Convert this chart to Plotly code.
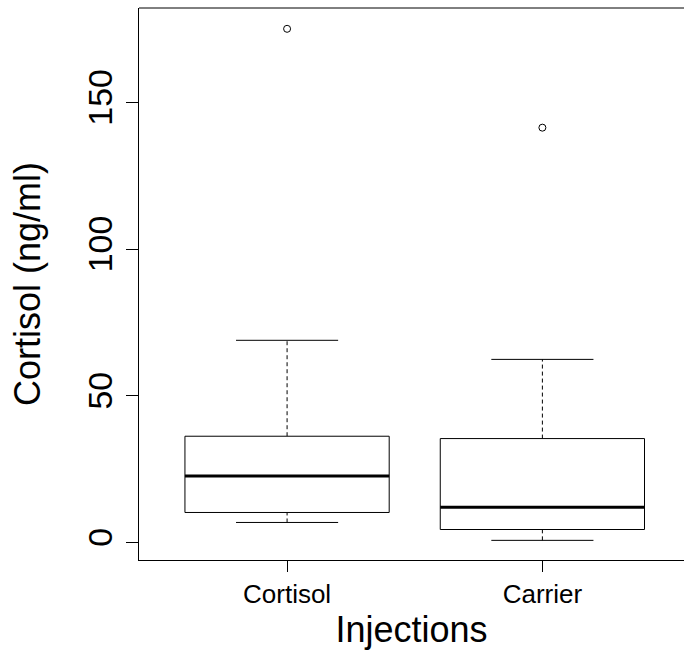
import plotly.graph_objects as go

# Summary statistics of cortisol concentration per injection group (ng/ml)
groups = ["Cortisol", "Carrier"]
positions = [1, 2]
lower_whisker = [6.8, 0.7]
q1 = [10.2, 4.4]
median = [22.6, 12.0]
q3 = [36.2, 35.4]
upper_whisker = [68.9, 62.4]
outliers = [[175.1], [141.4]]

y_ticks = [0, 50, 100, 150]

BOX_HALF = 0.4
CAP_HALF = 0.2
INK = "black"

fig = go.Figure()

for pos, lo, a, m, b, hi, out in zip(positions, lower_whisker, q1, median, q3,
                                      upper_whisker, outliers):
    # dashed whisker stems
    for y0, y1 in ((b, hi), (lo, a)):
        fig.add_trace(go.Scatter(
            x=[pos, pos], y=[y0, y1], mode="lines",
            line=dict(color=INK, width=1, dash="4px,3px"),
            hoverinfo="skip", showlegend=False))
    # whisker caps
    for yv in (lo, hi):
        fig.add_trace(go.Scatter(
            x=[pos - CAP_HALF, pos + CAP_HALF], y=[yv, yv], mode="lines",
            line=dict(color=INK, width=1),
            hoverinfo="skip", showlegend=False))
    # box from Q1 to Q3
    fig.add_trace(go.Scatter(
        x=[pos - BOX_HALF, pos + BOX_HALF, pos + BOX_HALF, pos - BOX_HALF, pos - BOX_HALF],
        y=[a, a, b, b, a], mode="lines",
        line=dict(color=INK, width=1), fill="toself", fillcolor="white",
        hoverinfo="skip", showlegend=False))
    # median bar
    fig.add_trace(go.Scatter(
        x=[pos - BOX_HALF, pos + BOX_HALF], y=[m, m], mode="lines",
        line=dict(color=INK, width=3),
        hoverinfo="skip", showlegend=False))
    # outlying points
    fig.add_trace(go.Scatter(
        x=[pos] * len(out), y=out, mode="markers",
        marker=dict(symbol="circle-open", size=7, color=INK, line=dict(width=1)),
        showlegend=False))

font_family = "Liberation Sans, Arial, sans-serif"

# top edge of the plotting frame (the right edge runs past the page)
fig.add_shape(type="line", xref="paper", yref="paper", x0=0, x1=1, y0=1, y1=1,
              line=dict(color=INK, width=1))

fig.update_layout(
    width=684, height=654,
    margin=dict(l=139, r=0, t=8, b=94),
    paper_bgcolor="white", plot_bgcolor="white",
    font=dict(family=font_family, color="black"),
    xaxis=dict(
        range=[0.42, 2.5547],
        tickvals=positions, ticktext=groups,
        tickfont=dict(size=26),
        ticks="outside", ticklen=11, tickwidth=1, tickcolor=INK,
        showline=True, linecolor=INK, linewidth=1, mirror=False,
        showgrid=False, zeroline=False,
        title=dict(text="Injections", font=dict(size=36), standoff=8),
    ),
    yaxis=dict(
        range=[-6.0, 182.2],
        tickvals=y_ticks,
        tickfont=dict(size=34), tickangle=-90,
        ticks="outside", ticklen=12, tickwidth=1, tickcolor=INK,
        showline=True, linecolor=INK, linewidth=1,
        showgrid=False, zeroline=False,
        title=dict(text="Cortisol (ng/ml)", font=dict(size=36), standoff=29),
    ),
)

fig.write_html("out.html")
